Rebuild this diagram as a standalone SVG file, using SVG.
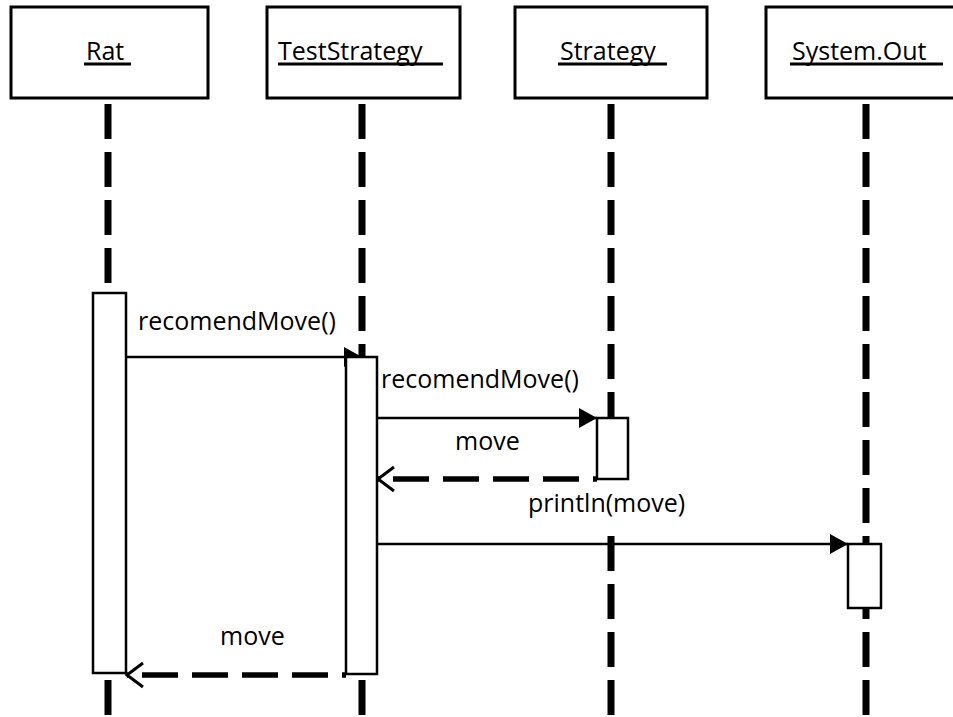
<svg xmlns="http://www.w3.org/2000/svg" width="953" height="717" viewBox="0 0 953 717">
  <style>
    .head { fill: #fff; stroke: #000; stroke-width: 3; }
    .act { fill: #fff; stroke: #000; stroke-width: 2.5; }
    .life { stroke: #000; stroke-width: 7; stroke-dasharray: 35 13; fill: none; }
    .msg { stroke: #000; stroke-width: 2.5; fill: none; }
    .ret { stroke: #000; stroke-width: 5.5; stroke-dasharray: 36 14; stroke-dashoffset: 32; fill: none; }
    .uline { stroke: #000; stroke-width: 2.8; }
    .bg { fill: #fff; stroke: none; }
    text { font-family: "Open Sans", "Noto Sans", "Liberation Sans", sans-serif; font-size: 25px; fill: #000; }
  </style>
  <defs>
    <marker id="solidHead" markerUnits="userSpaceOnUse" markerWidth="19" markerHeight="20" refX="18" refY="10" orient="auto" viewBox="0 0 19 20">
      <path d="M0,0 L18,10 L0,20 Z" fill="#000" stroke="none"/>
    </marker>
    <marker id="openHead" markerUnits="userSpaceOnUse" markerWidth="22" markerHeight="28" refX="18" refY="14" orient="auto" viewBox="0 0 22 28">
      <path d="M2,2 L18,14 L2,26" fill="none" stroke="#000" stroke-width="3" stroke-dasharray="none"/>
    </marker>
  </defs>

  <!-- lifelines -->
  <g id="lifelines">
    <line class="life" x1="108" y1="104" x2="108" y2="717"/>
    <line class="life" x1="362" y1="104" x2="362" y2="717"/>
    <line class="life" x1="611" y1="104" x2="611" y2="717"/>
    <line class="life" x1="866" y1="104" x2="866" y2="717"/>
  </g>

  <!-- participants -->
  <g id="rat">
    <rect class="head" x="11" y="7" width="197" height="91"/>
    <text x="86" y="60">Rat</text>
    <line class="uline" x1="84" y1="64" x2="131" y2="64"/>
  </g>
  <g id="testStrategy">
    <rect class="head" x="267" y="7" width="193" height="91"/>
    <text x="278" y="60">TestStrategy</text>
    <line class="uline" x1="278" y1="64" x2="443" y2="64"/>
  </g>
  <g id="strategy">
    <rect class="head" x="515" y="7" width="192" height="91"/>
    <text x="560" y="60">Strategy</text>
    <line class="uline" x1="558" y1="64" x2="667" y2="64"/>
  </g>
  <g id="systemOut">
    <rect class="head" x="766" y="7" width="200" height="91"/>
    <text x="792" y="60">System.Out</text>
    <line class="uline" x1="790" y1="64" x2="943" y2="64"/>
  </g>

  <!-- messages -->
  <g id="connectors">
    <line class="msg" x1="126" y1="357" x2="362" y2="357" marker-end="url(#solidHead)"/>
    <text x="138" y="330">recomendMove()</text>

    <line class="msg" x1="377" y1="418" x2="597" y2="418" marker-end="url(#solidHead)"/>
    <text x="381" y="388">recomendMove()</text>

    <line class="ret" x1="597" y1="479" x2="378" y2="479" marker-end="url(#openHead)"/>
    <text x="455" y="450">move</text>

    <line class="msg" x1="377" y1="544" x2="848" y2="544" marker-end="url(#solidHead)"/>
    <rect class="bg" x="526" y="485" width="166" height="44"/>
    <text x="528" y="512">println(move)</text>

    <line class="ret" x1="346" y1="675" x2="127" y2="675" marker-end="url(#openHead)"/>
    <text x="220" y="645">move</text>
  </g>

  <!-- activation bars -->
  <g id="activations">
    <rect id="act-rat" class="act" x="93" y="293" width="33" height="380"/>
    <rect id="act-test" class="act" x="346" y="357" width="31" height="317"/>
    <rect id="act-strategy" class="act" x="597" y="418" width="31" height="61"/>
    <rect id="act-out" class="act" x="848" y="544" width="33" height="64"/>
  </g>
</svg>
